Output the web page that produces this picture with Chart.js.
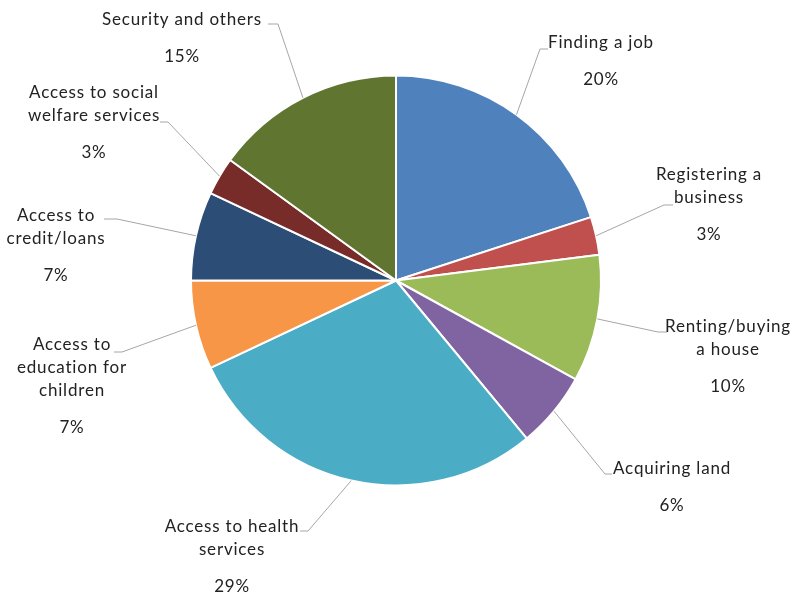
<!DOCTYPE html>
<html>
<head>
<meta charset="utf-8">
<script src="https://cdn.jsdelivr.net/npm/chart.js@4.4.1/dist/chart.umd.min.js"></script>
<style>
  html, body { margin: 0; padding: 0; background: #fff; }
  #wrap { width: 791px; height: 595px; }
</style>
</head>
<body>
<div id="wrap"><canvas id="pie" width="791" height="595"></canvas></div>
<script>
// categories (wrapped the way they are printed) and shares in percent
const categories = [
  ['Finding a job'],
  ['Registering a', 'business'],
  ['Renting/buying', 'a house'],
  ['Acquiring land'],
  ['Access to health', 'services'],
  ['Access to', 'education for', 'children'],
  ['Access to', 'credit/loans'],
  ['Access to social', 'welfare services'],
  ['Security and others']
];
const shares = [20, 3, 10, 6, 29, 7, 7, 3, 15];
const sliceColors = [
  '#4F81BD', '#C0504D', '#9BBB59', '#8064A2', '#4BACC6',
  '#F79646', '#2C4D75', '#772C2A', '#5F7530'
];

// where each label sits: x = text centre, y = first line, ex/ey = leader elbow, tx = end of short tick
const labelLayout = [
  { x: 601, y: 43,  ex: 540, ey: 49,  tx: 548 },
  { x: 709, y: 175, ex: 664, ey: 205, tx: 673 },
  { x: 728, y: 327, ex: 658, ey: 332, tx: 667 },
  { x: 672, y: 469, ex: 605, ey: 474, tx: 612 },
  { x: 232, y: 527, ex: 308, ey: 531, tx: 300 },
  { x: 72,  y: 345, ex: 122, ey: 352, tx: 114 },
  { x: 56,  y: 216, ex: 117, ey: 219, tx: 104 },
  { x: 94,  y: 93,  ex: 168, ey: 122, tx: 160 },
  { x: 182, y: 20,  ex: 278, ey: 24,  tx: 268 }
];

const FONT = '17px Lato, "Open Sans", sans-serif';
const LINE_H = 23;
const PCT_GAP = 37;

// draws leader lines and the label blocks outside the pie
const outsideLabels = {
  id: 'outsideLabels',
  afterDatasetsDraw(chart) {
    const ctx = chart.ctx;
    const arcs = chart.getDatasetMeta(0).data;
    ctx.save();
    arcs.forEach((arc, i) => {
      const p = arc.getProps(['x', 'y', 'startAngle', 'endAngle', 'outerRadius'], true);
      const mid = (p.startAngle + p.endAngle) / 2;
      const sx = p.x + Math.cos(mid) * p.outerRadius;
      const sy = p.y + Math.sin(mid) * p.outerRadius;
      const lay = labelLayout[i];

      ctx.strokeStyle = '#A6A6A6';
      ctx.lineWidth = 1;
      ctx.beginPath();
      ctx.moveTo(sx, sy);
      ctx.lineTo(lay.ex, lay.ey);
      ctx.lineTo(lay.tx, lay.ey);
      ctx.stroke();

      ctx.fillStyle = '#222';
      ctx.font = FONT;
      ctx.letterSpacing = '0.8px';
      ctx.textAlign = 'center';
      ctx.textBaseline = 'middle';
      const lines = categories[i];
      lines.forEach((t, k) => ctx.fillText(t, lay.x, lay.y + k * LINE_H));
      const lastY = lay.y + (lines.length - 1) * LINE_H;
      ctx.fillText(shares[i] + '%', lay.x, lastY + PCT_GAP);
    });
    ctx.restore();
  }
};

const chart = new Chart(document.getElementById('pie'), {
  type: 'pie',
  data: {
    labels: categories,
    datasets: [{
      data: shares,
      backgroundColor: sliceColors,
      borderColor: '#ffffff',
      borderWidth: 2,
      radius: 205
    }]
  },
  options: {
    responsive: false,
    animation: false,
    layout: { padding: { left: 1, bottom: 34 } },
    plugins: {
      legend: { display: false },
      tooltip: { enabled: false }
    }
  },
  plugins: [outsideLabels]
});
</script>
</body>
</html>
